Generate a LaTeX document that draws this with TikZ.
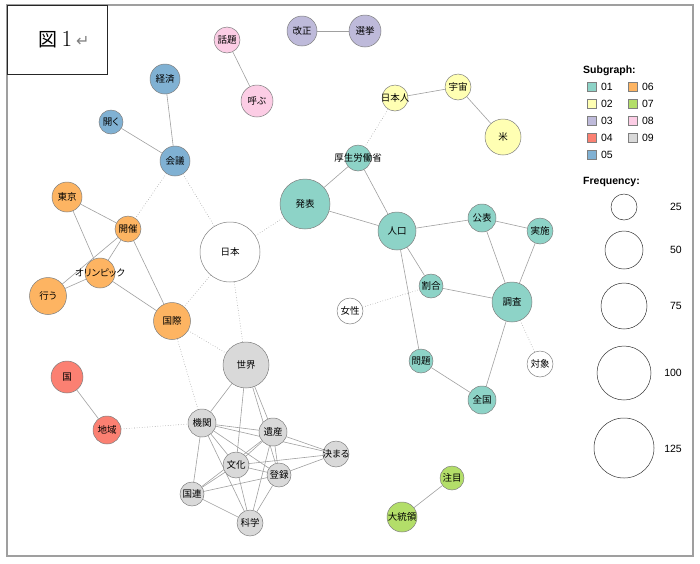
\documentclass[tikz,border=0pt]{standalone}
\usepackage{fontspec}
\usepackage{tikz}
\newfontfamily\jp[RawFeature=+palt]{Noto Sans CJK JP}
\newfontfamily\jpplain{Noto Sans CJK JP}
\newfontfamily\arial{Liberation Sans}
\newfontfamily\symfont{DejaVu Sans}
\definecolor{c01}{HTML}{8DD3C7}
\definecolor{c02}{HTML}{FFFFB3}
\definecolor{c03}{HTML}{BEBADA}
\definecolor{c04}{HTML}{FB8072}
\definecolor{c05}{HTML}{80B1D3}
\definecolor{c06}{HTML}{FDB462}
\definecolor{c07}{HTML}{B3DE69}
\definecolor{c08}{HTML}{FCCDE5}
\definecolor{c09}{HTML}{D9D9D9}
\definecolor{rim}{HTML}{7F7F7F}
\definecolor{linkgray}{HTML}{A0A0A0}
\pgfdeclarelayer{edges}
\pgfsetlayers{edges,main}
\tikzstyle{word} = [circle, draw=rim, line width=0.5pt, inner sep=0pt]
\tikzstyle{link} = [draw=linkgray, line width=0.6pt]
\tikzstyle{weak} = [draw=linkgray, line width=0.6pt, dotted]
\tikzstyle{swatch} = [rectangle, draw=rim, line width=0.7pt, minimum size=9pt, inner sep=0pt]
\tikzstyle{sizekey} = [circle, draw=black!80, line width=0.5pt, inner sep=0pt]
\tikzstyle{legendtext} = [font=\arial\fontsize{10.5}{12}\selectfont, inner sep=1pt]
\tikzstyle{legendhead} = [font=\arial\bfseries\fontsize{10.5}{12}\selectfont, inner sep=1pt, anchor=west]

\begin{document}
\begin{tikzpicture}[x=1pt,y=-1pt,every label/.style={font=\jp\fontsize{9.5}{11}\selectfont, inner sep=0pt}]
    \useasboundingbox (0,0) rectangle (700,563);
    % frame and title
    \draw [gray!75, line width=1.5pt] (7,5) rectangle (693,556);
    \draw [fill=white, draw=black!85, line width=0.7pt] (7,5) rectangle (107,74);
    \node (title) at (64,40) {{\jpplain\fontsize{19}{22}\selectfont 図}\hspace{4pt}\fontsize{23}{24}\selectfont 1\hspace{4pt}{\color{gray}\symfont\fontsize{16}{16}\selectfont ↵}};

    % subgraph 08, 03, 05
    \node [word, fill=c08, minimum size=26, label=center:話題] (wadai) at (227,40) {};
    \node [word, fill=c08, minimum size=32, label=center:呼ぶ] (yobu) at (257,101) {};
    \node [word, fill=c03, minimum size=30, label=center:改正] (kaisei) at (302,31) {};
    \node [word, fill=c03, minimum size=32, label=center:選挙] (senkyo) at (365,31) {};
    \node [word, fill=c05, minimum size=30, label=center:経済] (keizai) at (165,79) {};
    \node [word, fill=c05, minimum size=24, label=center:開く] (hiraku) at (111,122) {};
    \node [word, fill=c05, minimum size=30, label=center:会議] (kaigi) at (175,161) {};

    % subgraph 02
    \node [word, fill=c02, minimum size=26, label=center:日本人] (nihonjin) at (395,98) {};
    \node [word, fill=c02, minimum size=26, label=center:宇宙] (uchu) at (458,87) {};
    \node [word, fill=c02, minimum size=36, label=center:米] (bei) at (503,137) {};

    % subgraph 01
    \node [word, fill=c01, minimum size=26, label=center:厚生労働省] (kousei) at (358,158) {};
    \node [word, fill=c01, minimum size=50, label=center:発表] (happyo) at (305,204) {};
    \node [word, fill=c01, minimum size=38, label=center:人口] (jinko) at (397,231) {};
    \node [word, fill=c01, minimum size=28, label=center:公表] (kohyo) at (482,218) {};
    \node [word, fill=c01, minimum size=26, label=center:実施] (jisshi) at (540,231) {};
    \node [word, fill=c01, minimum size=24, label=center:割合] (wariai) at (431,286) {};
    \node [word, fill=c01, minimum size=40, label=center:調査] (chosa) at (512,302) {};
    \node [word, fill=c01, minimum size=24, label=center:問題] (mondai) at (421,361) {};
    \node [word, fill=c01, minimum size=28, label=center:全国] (zenkoku) at (482,400) {};
    \node [word, fill=white, minimum size=26, label=center:女性] (josei) at (350,311) {};
    \node [word, fill=white, minimum size=26, label=center:対象] (taisho) at (540,364) {};
    \node [word, fill=white, minimum size=60, label=center:日本] (nihon) at (230,252) {};

    % subgraph 06
    \node [word, fill=c06, minimum size=30, label=center:東京] (tokyo) at (67,197) {};
    \node [word, fill=c06, minimum size=26, label=center:開催] (kaisai) at (128,229) {};
    \node [word, fill=c06, minimum size=30, label=center:オリンピック] (olympic) at (100,273) {};
    \node [word, fill=c06, minimum size=37, label=center:行う] (okonau) at (48,296) {};
    \node [word, fill=c06, minimum size=37, label=center:国際] (kokusai) at (172,321) {};

    % subgraph 04, 09, 07
    \node [word, fill=c04, minimum size=32, label=center:国] (kuni) at (67,377) {};
    \node [word, fill=c04, minimum size=28, label=center:地域] (chiiki) at (107,430) {};
    \node [word, fill=c09, minimum size=46, label=center:世界] (sekai) at (246,365) {};
    \node [word, fill=c09, minimum size=28, label=center:機関] (kikan) at (202,423) {};
    \node [word, fill=c09, minimum size=28, label=center:遺産] (isan) at (273,432) {};
    \node [word, fill=c09, minimum size=26, label=center:決まる] (kimaru) at (336,454) {};
    \node [word, fill=c09, minimum size=26, label=center:文化] (bunka) at (236,465) {};
    \node [word, fill=c09, minimum size=24, label=center:登録] (toroku) at (279,475) {};
    \node [word, fill=c09, minimum size=24, label=center:国連] (kokuren) at (192,494) {};
    \node [word, fill=c09, minimum size=26, label=center:科学] (kagaku) at (250,523) {};
    \node [word, fill=c07, minimum size=24, label=center:注目] (chumoku) at (452,478) {};
    \node [word, fill=c07, minimum size=30, label=center:大統領] (daitoryo) at (402,517) {};

    \begin{pgfonlayer}{edges}
    \draw [link] (wadai) -- (yobu);
    \draw [link] (kaisei) -- (senkyo);
    \draw [link] (keizai) -- (kaigi);
    \draw [link] (hiraku) -- (kaigi);
    \draw [link] (nihonjin) -- (uchu);
    \draw [link] (uchu) -- (bei);
    \draw [link] (kousei) -- (happyo);
    \draw [link] (kousei) -- (jinko);
    \draw [link] (happyo) -- (jinko);
    \draw [link] (jinko) -- (kohyo);
    \draw [link] (jinko) -- (wariai);
    \draw [link] (jinko) -- (mondai);
    \draw [link] (kohyo) -- (jisshi);
    \draw [link] (kohyo) -- (chosa);
    \draw [link] (jisshi) -- (chosa);
    \draw [link] (wariai) -- (chosa);
    \draw [link] (chosa) -- (zenkoku);
    \draw [link] (mondai) -- (zenkoku);
    \draw [link] (tokyo) -- (kaisai);
    \draw [link] (tokyo) -- (olympic);
    \draw [link] (kaisai) -- (olympic);
    \draw [link] (kaisai) -- (okonau);
    \draw [link] (kaisai) -- (kokusai);
    \draw [link] (olympic) -- (okonau);
    \draw [link] (olympic) -- (kokusai);
    \draw [link] (kuni) -- (chiiki);
    \draw [link] (chumoku) -- (daitoryo);
    % world heritage cluster
    \draw [link] (sekai) -- (kikan);
    \draw [link] (sekai) -- (bunka);
    \draw [link] (sekai) -- (isan);
    \draw [link] (sekai) -- (toroku);
    \draw [link] (kikan) -- (isan);
    \draw [link] (kikan) -- (kimaru);
    \draw [link] (kikan) -- (bunka);
    \draw [link] (kikan) -- (toroku);
    \draw [link] (kikan) -- (kagaku);
    \draw [link] (kikan) -- (kokuren);
    \draw [link] (isan) -- (kimaru);
    \draw [link] (isan) -- (bunka);
    \draw [link] (isan) -- (kokuren);
    \draw [link] (isan) -- (toroku);
    \draw [link] (isan) -- (kagaku);
    \draw [link] (bunka) -- (kimaru);
    \draw [link] (bunka) -- (toroku);
    \draw [link] (bunka) -- (kokuren);
    \draw [link] (bunka) -- (kagaku);
    \draw [link] (toroku) -- (kimaru);
    \draw [link] (toroku) -- (kokuren);
    \draw [link] (toroku) -- (kagaku);
    \draw [link] (kokuren) -- (kagaku);
    % links between subgraphs
    \draw [weak] (nihonjin) -- (kousei);
    \draw [weak] (kaigi) -- (kaisai);
    \draw [weak] (kaigi) -- (nihon);
    \draw [weak] (nihon) -- (happyo);
    \draw [weak] (nihon) -- (kokusai);
    \draw [weak] (nihon) -- (sekai);
    \draw [weak] (kokusai) -- (sekai);
    \draw [weak] (kokusai) -- (kikan);
    \draw [weak] (chiiki) -- (kikan);
    \draw [weak] (josei) -- (wariai);
    \draw [weak] (chosa) -- (taisho);
    \end{pgfonlayer}

    % legend
    \node [legendhead] (subgraph) at (582,71) {Subgraph:};
    \node [swatch, fill=c01, label={[legendtext, xshift=3pt]right:01}] (sw01) at (592,87) {};
    \node [swatch, fill=c02, label={[legendtext, xshift=3pt]right:02}] (sw02) at (592,104) {};
    \node [swatch, fill=c03, label={[legendtext, xshift=3pt]right:03}] (sw03) at (592,121) {};
    \node [swatch, fill=c04, label={[legendtext, xshift=3pt]right:04}] (sw04) at (592,138) {};
    \node [swatch, fill=c05, label={[legendtext, xshift=3pt]right:05}] (sw05) at (592,155) {};
    \node [swatch, fill=c06, label={[legendtext, xshift=3pt]right:06}] (sw06) at (633,87) {};
    \node [swatch, fill=c07, label={[legendtext, xshift=3pt]right:07}] (sw07) at (633,104) {};
    \node [swatch, fill=c08, label={[legendtext, xshift=3pt]right:08}] (sw08) at (633,121) {};
    \node [swatch, fill=c09, label={[legendtext, xshift=3pt]right:09}] (sw09) at (633,138) {};

    \node [legendhead] (frequency) at (582,182) {Frequency:};
    \node [sizekey, minimum size=26] (f25) at (624,207) {};
    \node [sizekey, minimum size=38] (f50) at (624,250) {};
    \node [sizekey, minimum size=46] (f75) at (624,306) {};
    \node [sizekey, minimum size=54] (f100) at (624,373) {};
    \node [sizekey, minimum size=60] (f125) at (624,448) {};
    \node [legendtext, anchor=east] (n25) at (683,207) {25};
    \node [legendtext, anchor=east] (n50) at (683,250) {50};
    \node [legendtext, anchor=east] (n75) at (683,306) {75};
    \node [legendtext, anchor=east] (n100) at (683,373) {100};
    \node [legendtext, anchor=east] (n125) at (683,449) {125};
\end{tikzpicture}
\end{document}
